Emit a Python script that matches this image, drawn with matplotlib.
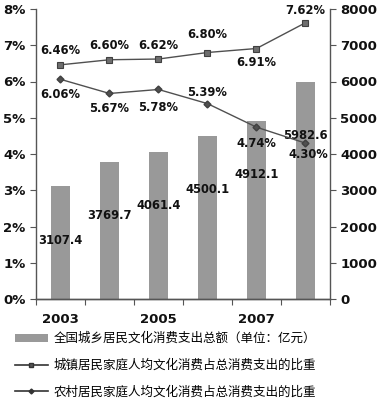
import numpy as np
import matplotlib.pyplot as plt
from matplotlib.lines import Line2D
from matplotlib.patches import Patch

plt.rcParams['font.family'] = ['DejaVu Sans', 'Noto Sans CJK SC']

years = ['2003', '2004', '2005', '2006', '2007', '2008']
total_spend = [3107.4, 3769.7, 4061.4, 4500.1, 4912.1, 5982.6]
urban_share = [6.46, 6.60, 6.62, 6.80, 6.91, 7.62]
rural_share = [6.06, 5.67, 5.78, 5.39, 4.74, 4.30]
legend_labels = ['全国城乡居民文化消费支出总额（单位：亿元）',
                 '城镇居民家庭人均文化消费占总消费支出的比重',
                 '农村居民家庭人均文化消费占总消费支出的比重']

# label offsets (points): up/down for each line label
urban_dy = [10, 10, 10, 13, -10, 9]
rural_dy = [-11, -11, -13, 8, -12, -8]

fig = plt.figure(figsize=(3.81, 4.0), dpi=100)
ax = fig.add_axes([0.0945, 0.2525, 0.7715, 0.725])
ax2 = ax.twinx()

x = np.arange(len(years))
bar_color = '#999999'
line_color = '#505050'

ax2.bar(x, total_spend, width=0.38, color=bar_color, zorder=1)
ax2.set_ylim(0, 8000)
ax2.set_yticks(np.arange(0, 8001, 1000))

ax.set_zorder(ax2.get_zorder() + 1)
ax.patch.set_visible(False)

ax.plot(x, urban_share, color=line_color, lw=1.0, marker='s', ms=5,
        mfc='#6e6e6e', mec='#404040', mew=0.8)
ax.plot(x, rural_share, color=line_color, lw=1.0, marker='D', ms=3.5,
        mfc='#505050', mec='#404040')
ax.set_ylim(0, 8)
ax.set_yticks(np.arange(0, 9, 1))
ax.set_yticklabels([f'{v}%' for v in range(9)])
ax.set_xlim(-0.5, 5.5)

lab_font = dict(fontsize=8.3, fontweight='bold', color='#111111')
for i in range(len(years)):
    ax.annotate(f'{urban_share[i]:.2f}%', (x[i], urban_share[i]),
                xytext=(0, urban_dy[i]), textcoords='offset points',
                ha='center', va='center', **lab_font)
    ax.annotate(f'{rural_share[i]:.2f}%', (x[i], rural_share[i]),
                xytext=(2 if i == 5 else 0, rural_dy[i]), textcoords='offset points',
                ha='center', va='center', **lab_font)
    ax2.text(x[i], total_spend[i] - 1480, f'{total_spend[i]:.1f}',
             ha='center', va='center', **lab_font)

# x axis: ticks at category boundaries, labels at every other category
ax.set_xticks(np.arange(-0.5, 6, 1))
ax.set_xticklabels([])
ax.set_xticks(x[::2], minor=True)
ax.set_xticklabels(years[::2], minor=True)
ax.tick_params(axis='x', which='minor', length=0, pad=10)
ax.tick_params(axis='x', which='major', length=4, direction='out', color='#555555')

for a in (ax, ax2):
    a.spines['top'].set_visible(False)
    for s in ('left', 'right', 'bottom'):
        a.spines[s].set_color('#555555')
        a.spines[s].set_linewidth(1.0)
    a.tick_params(axis='y', length=4, color='#555555', labelsize=9.5)
    for t in a.get_yticklabels() + a.get_xticklabels(minor=True):
        t.set_fontweight('bold')
        t.set_color('#111111')
ax.tick_params(axis='x', which='minor', labelsize=9.5)
ax2.spines['left'].set_visible(False)
ax.spines['right'].set_visible(False)

handles = [Patch(facecolor=bar_color, edgecolor='none'),
           Line2D([], [], color='#333333', lw=1.2, marker='s', ms=3.5,
                  mfc='#555555', mec='#333333'),
           Line2D([], [], color='#333333', lw=1.2, marker='D', ms=2.5,
                  mfc='#333333', mec='#333333')]
fig.legend(handles, legend_labels, loc='lower left',
           bbox_to_anchor=(0.02, -0.015), frameon=False,
           prop={'family': 'Noto Sans CJK SC', 'size': 9},
           handlelength=2.6, handleheight=0.6, labelspacing=1.1,
           handletextpad=0.5, borderaxespad=0.2)

fig.savefig('out.png', dpi=100)
